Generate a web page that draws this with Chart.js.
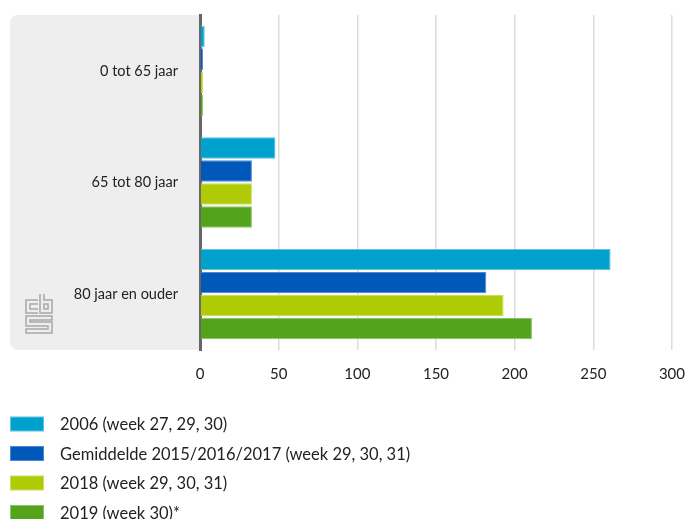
<!DOCTYPE html>
<html>
<head>
<meta charset="utf-8">
<script src="https://cdn.jsdelivr.net/npm/chart.js@4.4.1/dist/chart.umd.min.js"></script>
<style>
  html, body { margin: 0; padding: 0; background: #fff; }
  #wrap { width: 685px; height: 519px; position: relative; }
</style>
</head>
<body>
<div id="wrap"><canvas id="chart"></canvas></div>
<script>
const categories = ['0 tot 65 jaar', '65 tot 80 jaar', '80 jaar en ouder'];
const seriesNames = [
  '2006 (week 27, 29, 30)',
  'Gemiddelde 2015/2016/2017 (week 29, 30, 31)',
  '2018 (week 29, 30, 31)',
  '2019 (week 30)*'
];
const values2006 = [3, 48, 261];
const valuesGemiddelde = [2, 33, 182];
const values2018 = [2, 33, 193];
const values2019 = [2, 33, 211];
const xTicks = [0, 50, 100, 150, 200, 250, 300];

const fills = ['#00a1cd', '#0058b8', '#afcb05', '#53a31d'];
const edges = ['#5fc3e0', '#4d8ad0', '#cbde5c', '#8cc26a'];
const FONT = 'Lato, "Open Sans", sans-serif';

// grey panel behind the category labels + cbs logo
const panelPlugin = {
  id: 'panel',
  beforeDraw(chart) {
    const { ctx, chartArea } = chart;
    ctx.save();
    ctx.fillStyle = '#eeeeee';
    ctx.beginPath();
    ctx.roundRect(10, chartArea.top, chartArea.left - 10, chartArea.bottom - chartArea.top, [8, 0, 0, 8]);
    ctx.fill();

    // simple outline version of the logo
    ctx.strokeStyle = '#a8a8a8';
    ctx.lineWidth = 1.5;
    const x = 26, y = 294;
    ctx.beginPath();
    // c
    ctx.moveTo(x + 12, y + 6); ctx.lineTo(x, y + 6); ctx.lineTo(x, y + 19); ctx.lineTo(x + 12, y + 19);
    ctx.moveTo(x + 12, y + 10); ctx.lineTo(x + 4, y + 10); ctx.lineTo(x + 4, y + 15); ctx.lineTo(x + 12, y + 15);
    // b
    ctx.moveTo(x + 14, y); ctx.lineTo(x + 14, y + 19); ctx.lineTo(x + 26, y + 19); ctx.lineTo(x + 26, y + 6); ctx.lineTo(x + 18, y + 6); ctx.lineTo(x + 18, y);
    ctx.moveTo(x + 18, y + 10); ctx.lineTo(x + 22, y + 10); ctx.lineTo(x + 22, y + 15); ctx.lineTo(x + 18, y + 15); ctx.closePath();
    // s
    ctx.moveTo(x + 26, y + 22); ctx.lineTo(x, y + 22); ctx.lineTo(x, y + 32); ctx.lineTo(x + 22, y + 32); ctx.lineTo(x + 22, y + 35); ctx.lineTo(x, y + 35); ctx.lineTo(x, y + 39); ctx.lineTo(x + 26, y + 39); ctx.lineTo(x + 26, y + 28); ctx.lineTo(x + 4, y + 28); ctx.lineTo(x + 4, y + 26); ctx.lineTo(x + 26, y + 26); ctx.closePath();
    ctx.stroke();
    ctx.restore();
  }
};

// legend drawn as one row per series under the axis
const legendPlugin = {
  id: 'rowLegend',
  afterDraw(chart) {
    const { ctx } = chart;
    ctx.save();
    ctx.font = '16.5px ' + FONT;
    ctx.textBaseline = 'middle';
    chart.data.datasets.forEach((ds, i) => {
      const cy = 424 + i * 29.5;
      ctx.fillStyle = ds.borderColor;
      ctx.fillRect(10, cy - 7.5, 34, 15);
      ctx.fillStyle = ds.backgroundColor;
      ctx.fillRect(11, cy - 6.5, 32, 13);
      ctx.fillStyle = '#222';
      ctx.fillText(ds.label, 60, cy + 1);
    });
    ctx.restore();
  }
};

const seriesValues = [values2006, valuesGemiddelde, values2018, values2019];

new Chart(document.getElementById('chart'), {
  type: 'bar',
  data: {
    labels: categories,
    datasets: seriesValues.map((vals, i) => ({
      label: seriesNames[i],
      data: vals,
      backgroundColor: fills[i],
      borderColor: edges[i],
      borderWidth: 1,
      categoryPercentage: 0.824,
      barPercentage: 0.93
    }))
  },
  options: {
    indexAxis: 'y',
    responsive: true,
    maintainAspectRatio: false,
    animation: false,
    layout: { padding: { top: 15, left: 0, right: 0, bottom: 0 } },
    scales: {
      x: {
        min: 0,
        max: 300,
        afterBuildTicks: (scale) => { scale.ticks = xTicks.map(v => ({ value: v })); },
        afterFit: (scale) => { scale.height = 169; },
        grid: { color: '#dcdcdc', lineWidth: 1.5, drawTicks: true, tickLength: 15, tickColor: 'rgba(0,0,0,0)' },
        border: { display: false },
        ticks: { color: '#222', font: { family: FONT, size: 15 }, padding: 0 }
      },
      y: {
        afterFit: (scale) => { scale.width = 200; },
        grid: { display: false, drawTicks: true, tickLength: 22 },
        border: { display: true, color: '#666', width: 3 },
        ticks: { color: '#222', font: { family: FONT, size: 14.5 }, padding: 0 }
      }
    },
    plugins: {
      legend: { display: false },
      tooltip: { enabled: false }
    }
  },
  plugins: [panelPlugin, legendPlugin]
});
</script>
</body>
</html>
